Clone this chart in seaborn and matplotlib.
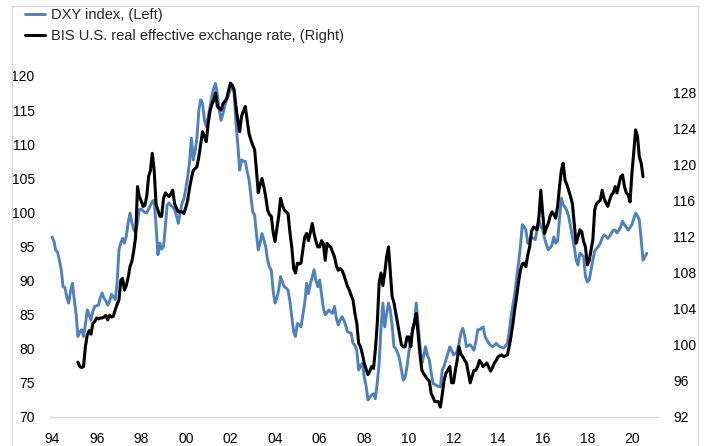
import matplotlib

matplotlib.use("Agg")
import matplotlib.pyplot as plt
import matplotlib.dates as mdates
from matplotlib.lines import Line2D
from matplotlib.patches import Rectangle
import pandas as pd
import seaborn as sns

# DXY index, monthly from Jan 1994 (left axis)
dxy = [
    96.4, 95.8, 94.5, 94.2, 93.0, 91.6, 89.1, 89.0, 87.5, 86.7, 88.5, 89.6,  # 1994
    87.2, 85.0, 81.8, 82.5, 82.8, 81.8, 83.5, 85.7, 85.0, 84.2, 85.5, 86.2,  # 1995
    86.3, 86.4, 87.5, 88.2, 87.4, 87.0, 86.4, 87.0, 88.0, 87.6, 87.2, 89.5,  # 1996
    94.5, 95.5, 96.2, 95.5, 96.5, 98.5, 99.9, 98.5, 97.5, 97.0, 98.5, 100.4,  # 1997
    100.5, 100.2, 100.0, 99.9, 100.5, 101.0, 101.6, 101.8, 98.0, 93.8, 95.5, 94.6,  # 1998
    95.0, 98.0, 101.1, 101.4, 101.0, 100.8, 100.4, 99.5, 98.4, 100.0, 101.4, 102.0,  # 1999
    103.5, 105.2, 107.3, 110.9, 107.7, 109.0, 110.9, 115.0, 116.5, 116.0, 113.5, 112.6,  # 2000
    114.0, 115.5, 117.0, 118.2, 118.9, 117.3, 115.0, 113.5, 114.5, 115.7, 116.5, 117.2,  # 2001
    118.0, 118.7, 117.6, 113.1, 110.0, 106.2, 107.7, 107.5, 107.5, 106.0, 104.8, 102.5,  # 2002
    100.1, 99.6, 97.0, 94.5, 95.5, 96.9, 96.0, 95.0, 93.0, 92.0, 91.5, 88.5,  # 2003
    86.7, 87.5, 88.6, 90.6, 89.8, 89.1, 88.9, 88.6, 87.0, 84.7, 82.5, 81.8,  # 2004
    83.7, 83.5, 83.2, 85.0, 86.7, 89.6, 88.1, 89.5, 90.5, 91.6, 90.0, 89.1,  # 2005
    90.1, 88.0, 86.0, 85.0, 85.3, 85.7, 85.4, 85.2, 86.2, 84.5, 83.5, 84.2,  # 2006
    84.7, 84.2, 83.5, 82.5, 82.4, 82.3, 80.8, 80.5, 79.8, 76.9, 77.5, 77.9,  # 2007
    75.9, 74.5, 72.5, 72.9, 73.2, 73.4, 72.7, 75.0, 77.9, 83.0, 86.7, 83.2,  # 2008
    85.2, 86.7, 85.7, 83.5, 80.3, 80.0, 79.4, 78.5, 76.9, 75.4, 75.8, 77.4,  # 2009
    79.5, 81.3, 82.5, 83.7, 86.7, 83.7, 80.5, 77.9, 79.0, 80.3, 79.0, 78.4,  # 2010
    76.5, 74.9, 74.8, 74.6, 74.5, 74.4, 76.9, 77.5, 78.4, 79.3, 80.3, 79.8,  # 2011
    79.1, 79.3, 79.6, 80.8, 82.3, 83.0, 82.0, 80.3, 80.5, 80.6, 80.2, 79.8,  # 2012
    81.0, 82.8, 82.8, 83.0, 83.2, 81.8, 81.3, 80.8, 80.5, 80.3, 80.5, 80.8,  # 2013
    80.5, 80.3, 80.2, 80.1, 80.4, 80.8, 82.5, 84.7, 86.5, 88.1, 90.5, 92.5,  # 2014
    95.0, 98.2, 97.9, 97.4, 95.5, 96.0, 96.4, 96.2, 96.0, 97.5, 98.9, 97.9,  # 2015
    97.5, 96.2, 95.3, 94.5, 94.8, 95.2, 96.4, 95.5, 95.8, 98.9, 102.1, 101.1,  # 2016
    100.8, 100.2, 99.4, 98.0, 96.4, 95.0, 93.0, 92.3, 94.0, 93.8, 93.5, 90.6,  # 2017
    89.8, 90.1, 91.5, 93.0, 94.3, 94.7, 95.0, 95.5, 96.2, 96.7, 96.5, 96.2,  # 2018
    96.5, 97.0, 97.4, 97.4, 97.0, 97.4, 97.9, 98.7, 98.2, 97.8, 97.4, 97.8,  # 2019
    98.2, 99.1, 99.9, 99.5, 98.9, 96.0, 93.0, 93.5, 94.0,  # 2020
]

# BIS U.S. real effective exchange rate, monthly from Mar 1995 (right axis)
reer = [
    98.1, 97.6, 97.5, 97.6, 99.8, 101.1, 101.6, 101.2, 102.4, 102.6,  # 1995
    103.0, 102.9, 103.0, 103.0, 103.1, 103.3, 102.8, 103.3, 103.1, 103.2, 103.9, 104.5,  # 1996
    105.0, 107.2, 107.4, 106.1, 106.6, 107.5, 108.7, 109.3, 110.5, 112.0, 117.6, 116.5,  # 1997
    116.0, 115.4, 115.5, 116.5, 118.7, 119.4, 121.3, 119.4, 115.6, 115.0, 114.3, 114.3,  # 1998
    116.3, 116.9, 116.7, 116.5, 116.8, 117.2, 115.7, 115.2, 114.8, 114.8, 114.8, 114.6,  # 1999
    115.3, 116.1, 117.4, 118.5, 119.4, 119.6, 119.8, 120.9, 122.3, 123.7, 123.2, 122.6,  # 2000
    124.6, 126.0, 126.7, 127.2, 128.0, 126.5, 126.3, 126.1, 126.8, 127.1, 127.4, 128.3,  # 2001
    129.1, 128.8, 128.4, 126.5, 125.0, 123.7, 125.4, 126.0, 126.5, 125.0, 123.5, 122.8,  # 2002
    122.2, 121.7, 119.5, 116.9, 117.8, 118.5, 117.6, 116.5, 115.0, 114.5, 114.3, 112.5,  # 2003
    111.5, 113.0, 114.3, 116.3, 115.5, 115.0, 114.8, 114.6, 112.5, 110.9, 108.5, 108.0,  # 2004
    109.1, 109.0, 109.1, 110.6, 112.0, 112.4, 111.6, 112.5, 113.5, 112.4, 111.5, 110.9,  # 2005
    110.9, 111.6, 111.3, 109.4, 111.3, 111.0, 110.9, 110.3, 109.8, 108.8, 108.3, 108.5,  # 2006
    108.3, 107.8, 107.2, 106.5, 106.1, 105.5, 105.0, 103.5, 102.4, 100.2, 99.8, 99.0,  # 2007
    98.0, 97.3, 96.7, 97.1, 97.6, 97.4, 99.5, 102.4, 106.9, 108.0, 106.6, 108.0,  # 2008
    109.8, 110.9, 108.3, 105.4, 104.7, 103.5, 102.4, 101.2, 100.0, 99.8, 99.8, 100.9,  # 2009
    100.9, 99.8, 101.7, 102.5, 103.5, 101.2, 99.0, 97.2, 96.8, 96.5, 96.2, 96.0,  # 2010
    94.6, 94.2, 93.7, 93.7, 93.7, 93.1, 94.5, 96.1, 96.9, 97.2, 97.6, 95.8,  # 2011
    95.8, 97.2, 98.3, 99.8, 99.0, 98.7, 98.3, 98.0, 96.9, 95.8, 96.5, 97.2,  # 2012
    97.2, 97.6, 98.3, 98.0, 97.6, 97.8, 98.0, 97.5, 97.1, 97.5, 98.0, 98.3,  # 2013
    98.7, 98.8, 98.9, 98.7, 98.8, 98.9, 99.8, 101.0, 102.4, 104.0, 105.4, 107.0,  # 2014
    108.3, 109.0, 109.1, 108.7, 110.0, 110.9, 112.6, 113.1, 113.0, 112.8, 114.3, 117.2,  # 2015
    114.6, 112.4, 113.0, 113.5, 114.3, 114.8, 114.5, 114.1, 115.4, 117.5, 119.4, 120.2,  # 2016
    118.3, 117.8, 117.2, 116.5, 115.7, 113.5, 111.3, 112.0, 112.8, 112.6, 111.5, 110.9,  # 2017
    108.9, 109.4, 110.5, 111.7, 115.0, 115.7, 115.9, 116.1, 117.2, 116.3, 115.8, 115.4,  # 2018
    116.1, 116.7, 116.9, 117.6, 116.9, 117.8, 118.7, 118.9, 117.6, 116.9, 116.7, 115.9,  # 2019
    119.1, 121.5, 123.9, 123.2, 120.9, 120.2, 118.7,  # 2020
]

dxy_start = "1994-01-01"
reer_start = "1995-03-01"
dxy_label = "DXY index, (Left)"
reer_label = "BIS U.S. real effective exchange rate, (Right)"
left_ticks = list(range(70, 121, 5))
right_ticks = list(range(92, 129, 4))
year_ticks = list(range(1994, 2021, 2))

BLUE = "#4f81bd"
GRID = "#d9d9d9"

sns.set_style("white")
plt.rcParams["font.family"] = ["Liberation Sans", "DejaVu Sans"]

dxy_df = pd.DataFrame(
    {"date": pd.date_range(dxy_start, periods=len(dxy), freq="MS"), "value": dxy}
)
reer_df = pd.DataFrame(
    {"date": pd.date_range(reer_start, periods=len(reer), freq="MS"), "value": reer}
)

W, H = 707, 446
fig = plt.figure(figsize=(W / 100, H / 100), dpi=100)
ax = fig.add_axes([50 / W, 29 / H, 608 / W, 341 / H])
ax2 = ax.twinx()

sns.lineplot(data=dxy_df, x="date", y="value", ax=ax, color=BLUE, linewidth=2.1)
sns.lineplot(data=reer_df, x="date", y="value", ax=ax2, color="black", linewidth=2.2)

ax.set_xlim(pd.Timestamp("1993-11-29"), pd.Timestamp("2021-03-03"))
ax.set_ylim(70, 120)
ax2.set_ylim(92, 92 + 341 / 9)
ax.set_yticks(left_ticks)
ax2.set_yticks(right_ticks)
ax.set_xticks(pd.to_datetime([f"{y}-01-01" for y in year_ticks]))
ax.xaxis.set_major_formatter(mdates.DateFormatter("%y"))

for a in (ax, ax2):
    a.set_xlabel("")
    a.set_ylabel("")
    for s in a.spines.values():
        s.set_visible(False)
    a.tick_params(length=0, labelsize=10, colors="black")
ax.spines["bottom"].set_visible(True)
ax.spines["bottom"].set_color(GRID)
ax.spines["bottom"].set_linewidth(1)
ax.tick_params(axis="y", pad=11)
ax.tick_params(axis="x", pad=11)
ax2.tick_params(axis="y", pad=11)

# outer chart border
fig.add_artist(
    Rectangle((12 / W, -0.02), (698 - 12) / W, (H - 6) / H + 0.02,
              transform=fig.transFigure, fill=False, edgecolor=GRID, lw=1)
)

handles = [
    Line2D([0], [0], color=BLUE, lw=2.1),
    Line2D([0], [0], color="black", lw=2.2),
]
fig.legend(handles, [dxy_label, reer_label], loc="upper left",
           bbox_to_anchor=(25 / W, 1 - 8 / H), frameon=False, fontsize=10.5,
           handlelength=1.4, handletextpad=0.35, labelspacing=0.5,
           borderpad=0, borderaxespad=0)

fig.savefig("out.png", dpi=100)
